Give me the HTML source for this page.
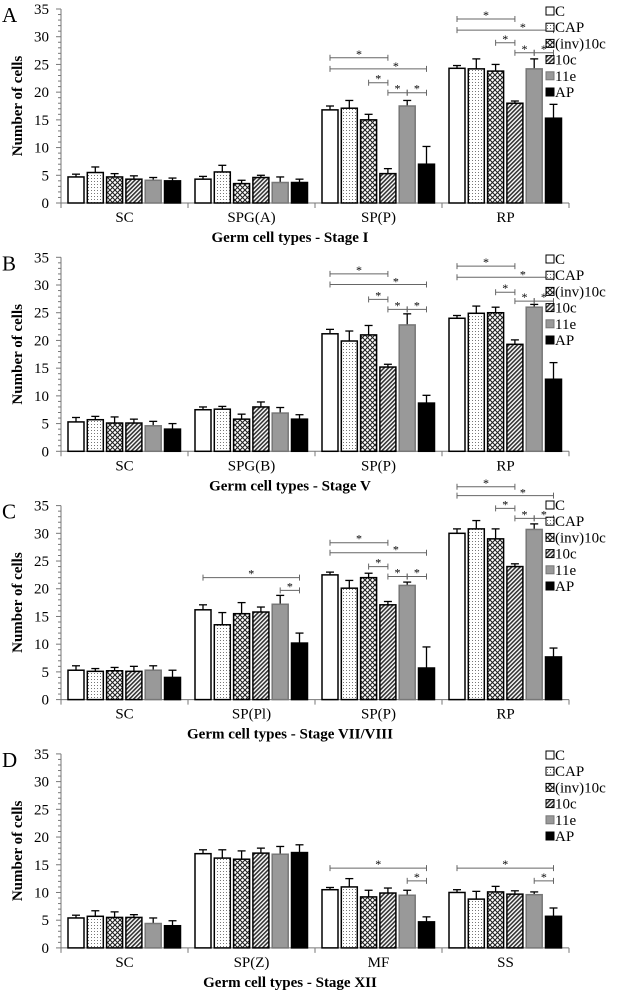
<!DOCTYPE html>
<html><head><meta charset="utf-8"><style>
body{margin:0;background:#fff}
svg{display:block;font-family:"Liberation Serif",serif}
</style></head><body>
<svg id="chart" width="630" height="992" viewBox="0 0 630 992" xmlns="http://www.w3.org/2000/svg">
<defs>
<pattern id="pDots" width="3" height="3" patternUnits="userSpaceOnUse"><rect width="3" height="3" fill="#fff"/><rect x="1" y="1" width="1" height="1" fill="#777"/></pattern>
<pattern id="pCross" width="5" height="5" patternUnits="userSpaceOnUse"><rect width="5" height="5" fill="#fff"/><path d="M0,0L5,5M5,0L0,5" stroke="#222" stroke-width="1.1"/></pattern>
<pattern id="pHatch" width="3" height="3" patternUnits="userSpaceOnUse" patternTransform="rotate(45)"><rect width="3" height="3" fill="#fff"/><rect width="1.6" height="3" fill="#333"/></pattern>
</defs>
</svg>
<script>
const seriesNames = ["C","CAP","(inv)10c","10c","11e","AP"];
const yTicks = [0,5,10,15,20,25,30,35];
const panelLetters = ["A","B","C","D"];
const panelTitles = ["Germ cell  types - Stage I","Germ cell  types - Stage V","Germ cell  types - Stage VII/VIII","Germ cell  types - Stage XII"];
const catsA = ["SC","SPG(A)","SP(P)","RP"];
const catsB = ["SC","SPG(B)","SP(P)","RP"];
const catsC = ["SC","SP(Pl)","SP(P)","RP"];
const catsD = ["SC","SP(Z)","MF","SS"];
const valsA = [[4.7,5.5,4.7,4.3,4.1,4.0],[4.3,5.6,3.5,4.6,3.7,3.7],[16.8,17.1,15.0,5.3,17.5,7.0],[24.3,24.2,23.8,18.0,24.2,15.3]];
const errsA = [[0.5,1.0,0.6,0.6,0.5,0.5],[0.5,1.2,0.6,0.4,1.0,0.6],[0.7,1.4,1.0,0.9,1.0,3.2],[0.5,1.8,1.2,0.4,1.8,2.5]];
const valsB = [[5.3,5.7,5.1,5.1,4.6,4.0],[7.5,7.6,5.8,8.0,6.9,5.8],[21.2,19.9,21.0,15.2,22.8,8.7],[24.0,24.9,25.0,19.3,26.0,13.0]];
const errsB = [[0.8,0.6,1.1,0.7,0.8,1.0],[0.5,0.5,0.9,0.9,1.0,0.8],[0.8,1.8,1.7,0.5,2.0,1.4],[0.5,1.3,1.0,0.8,0.5,3.0]];
const valsC = [[5.3,5.1,5.2,5.1,5.3,4.0],[16.2,13.5,15.5,15.8,17.2,10.2],[22.5,20.1,22.0,17.1,20.6,5.7],[30.0,30.8,29.0,24.0,30.7,7.7]];
const errsC = [[0.8,0.5,0.6,0.9,0.8,1.3],[0.9,2.2,2.0,0.9,1.6,1.8],[0.5,1.4,0.8,0.6,0.6,3.8],[0.8,1.5,1.8,0.5,1.0,1.6]];
const valsD = [[5.4,5.7,5.5,5.5,4.4,4.0],[17.0,16.2,16.0,17.1,16.9,17.2],[10.5,11.0,9.2,9.9,9.5,4.7],[10.0,8.8,10.1,9.7,9.6,5.7]];
const errsD = [[0.5,1.0,1.0,0.5,1.0,0.9],[0.7,1.5,1.5,0.9,1.4,1.4],[0.4,1.5,1.2,0.9,0.9,0.9],[0.5,1.4,1.0,0.6,0.5,1.5]];
// brackets: [category, fromBar, toBar, level, starMode(0=center,1=offset near from-end)]
const brA = [[2,0,3,26.2,0],[2,0,5,24.2,1],[2,2,3,21.7,0],[2,3,4,19.9,0],[2,4,5,19.9,0],[3,0,3,33.2,0],[3,0,5,31.2,1],[3,2,3,28.9,0],[3,3,4,27.1,0],[3,4,5,27.1,0]];
const brB = [[2,0,3,32.0,0],[2,0,5,30.1,1],[2,2,3,27.4,0],[2,3,4,25.6,0],[2,4,5,25.6,0],[3,0,3,33.4,0],[3,0,5,31.4,1],[3,2,3,28.7,0],[3,3,4,27.1,0],[3,4,5,27.1,0]];
const brC = [[1,0,5,22.0,0],[1,4,5,19.7,0],[2,0,3,28.3,0],[2,0,5,26.5,1],[2,2,3,24.0,0],[2,3,4,22.2,0],[2,4,5,22.2,0],[3,0,3,38.4,0],[3,0,5,36.8,1],[3,2,3,34.5,0],[3,3,4,32.7,0],[3,4,5,32.7,0]];
const brD = [[2,0,5,14.4,0],[2,4,5,12.1,0],[3,0,5,14.4,0],[3,4,5,12.1,0]];

const panelCats=[catsA,catsB,catsC,catsD], panelVals=[valsA,valsB,valsC,valsD], panelErrs=[errsA,errsB,errsC,errsD], panelBr=[brA,brB,brC,brD];
const fills=["#fff","url(#pDots)","url(#pCross)","url(#pHatch)","#999","#000"];
const strokes=["#000","#000","#000","#000","#777","#000"];
const svg=document.getElementById('chart');
const NS="http://www.w3.org/2000/svg";
function mk(tag,attrs,parent,txt){const e=document.createElementNS(NS,tag);for(const k in attrs)e.setAttribute(k,attrs[k]);if(txt!==undefined)e.textContent=txt;(parent||svg).appendChild(e);return e;}
const X0=61, X1=569, catW=(X1-X0)/4, barW=16, barStep=19.3, barOff=7, PX=194/35;
const legendTops=[5,253,499,749];
for(let p=0;p<4;p++){
  const y0=203+p*248.3;
  const y=v=>y0-v*PX;
  const bx=(c,b)=>X0+c*catW+barOff+b*barStep;
  const g=mk('g',{});  
  const L=mk('text',{x:2,y:y(35)+13,'font-size':21},g,panelLetters[p]);
   
  // y axis
  mk('line',{x1:X0,y1:y(0),x2:X0,y2:y(35),stroke:'#777','stroke-width':1},g);
  for(let v=0;v<=35;v++){const big=v%5===0;mk('line',{x1:X0-(big?5:3),x2:X0,y1:y(v),y2:y(v),stroke:'#777','stroke-width':1},g);}
  yTicks.forEach(v=>{const t=mk('text',{x:49,y:y(v)+5,'font-size':15,'text-anchor':'end'},g,v);});
  const yt=mk('text',{x:0,y:0,'font-size':15,'font-weight':'bold','text-anchor':'middle',transform:`translate(22,${y(17.5)}) rotate(-90)`},g,'Number of cells');
   
  // x axis
  mk('line',{x1:X0,y1:y(0),x2:X1,y2:y(0),stroke:'#777','stroke-width':1},g);
  for(let c=0;c<=4;c++){mk('line',{x1:X0+c*catW,x2:X0+c*catW,y1:y(0),y2:y(0)+5,stroke:'#777'},g);}
  panelCats[p].forEach((n,c)=>{const t=mk('text',{x:X0+c*catW+catW/2,y:y(0)+19,'font-size':15,'text-anchor':'middle'},g,n);});
  const xt=mk('text',{x:290,y:y(0)+39,'font-size':15,'font-weight':'bold','text-anchor':'middle'},g,panelTitles[p]);
   
  // bars
  panelVals[p].forEach((row,c)=>row.forEach((v,b)=>{
    const x=bx(c,b), e=panelErrs[p][c][b];
    const cx=x+barW/2;
    mk('line',{x1:cx,x2:cx,y1:y(v),y2:y(v+e),stroke:'#000','stroke-width':1.3},g);
    mk('line',{x1:cx-4,x2:cx+4,y1:y(v+e),y2:y(v+e),stroke:'#000','stroke-width':1.3},g);
    const r=mk('rect',{x:x,y:y(v),width:barW,height:v*PX,fill:fills[b],stroke:strokes[b],'stroke-width':1.5},g);
    
    
  }));
  // significance brackets
  panelBr[p].forEach(([c,a,b2,lv,mode])=>{
    const xa=bx(c,a)+barW/2, xb=bx(c,b2)+barW/2, yy=y(lv);
    const br=mk('g',{},g);  
    mk('line',{x1:xa,x2:xb,y1:yy,y2:yy,stroke:'#666','stroke-width':1},br);
    mk('line',{x1:xa,x2:xa,y1:yy-3,y2:yy+3,stroke:'#666'},br);
    mk('line',{x1:xb,x2:xb,y1:yy-3,y2:yy+3,stroke:'#666'},br);
    const sx= mode===1 ? bx(c,3)+barW/2+8 : (xa+xb)/2;
    const sy= mode===1 ? yy-3 : yy-4;
    mk('text',{x:sx,y:sy+4,'font-size':12,'text-anchor':'middle'},br,'*');
  });
  // legend
  const lg=mk('g',{},g);  
  seriesNames.forEach((n,i)=>{
    const ly=legendTops[p]+i*16.2;
    const en=mk('g',{},lg);  
    mk('rect',{x:546,y:ly+2,width:8,height:8,fill:fills[i],stroke:strokes[i],'stroke-width':1},en);
    mk('text',{x:555,y:ly+11,'font-size':15},en,n);
  });
}
</script>
</body></html>
